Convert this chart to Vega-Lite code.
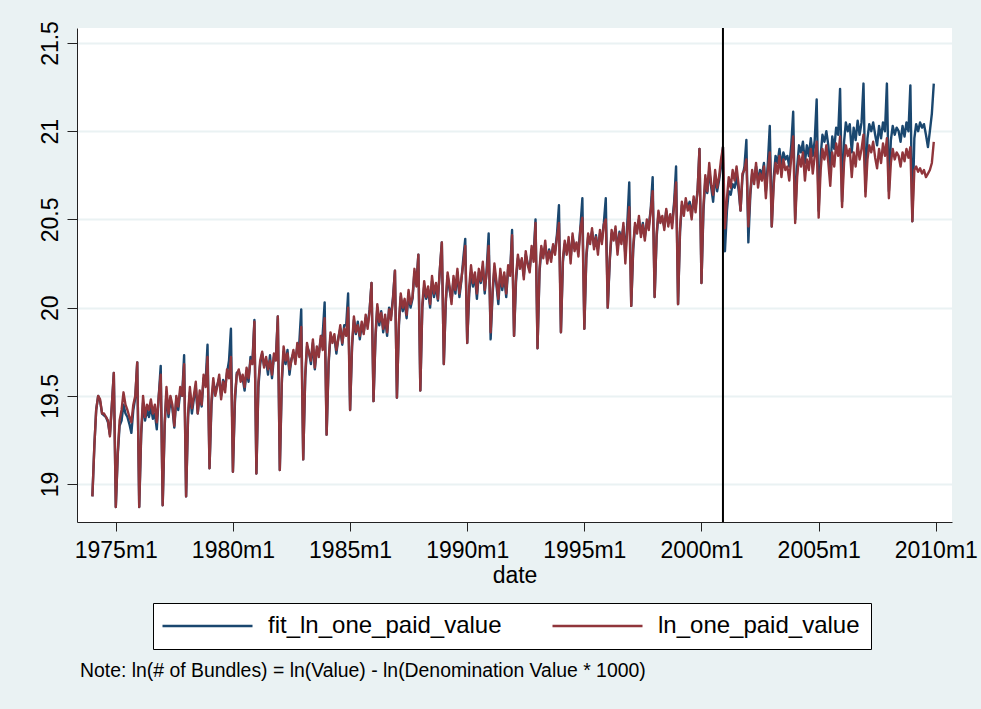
{
  "$schema": "https://vega.github.io/schema/vega-lite/v6.json",
  "width": 875,
  "height": 494,
  "autosize": {"type": "none"},
  "padding": {"left": 77, "top": 28, "right": 29, "bottom": 187},
  "background": "#eaf2f3",
  "config": {
    "font": "Liberation Sans",
    "view": {"fill": "white", "stroke": null}
  },
  "title": {
    "text": "Note: ln(# of Bundles) = ln(Value) - ln(Denomination Value * 1000)",
    "orient": "bottom",
    "anchor": "start",
    "frame": "group",
    "fontSize": 19.4,
    "fontWeight": "normal",
    "color": "#000",
    "dx": 3,
    "offset": 12
  },
  "layer": [
    {
      "data": {"values": [
{"t":"1974-01","f":18.93,"r":18.93},{"t":"1974-02","f":19.22,"r":19.22},{"t":"1974-03","f":19.42,"r":19.42},{"t":"1974-04","f":19.50,"r":19.50},{"t":"1974-05","f":19.47,"r":19.48},{"t":"1974-06","f":19.40,"r":19.40},{"t":"1974-07","f":19.39,"r":19.40},{"t":"1974-08","f":19.38,"r":19.38},{"t":"1974-09","f":19.35,"r":19.36},{"t":"1974-10","f":19.28,"r":19.27},{"t":"1974-11","f":19.45,"r":19.45},{"t":"1974-12","f":19.63,"r":19.63},
{"t":"1975-01","f":18.87,"r":18.87},{"t":"1975-02","f":19.17,"r":19.18},{"t":"1975-03","f":19.33,"r":19.36},{"t":"1975-04","f":19.36,"r":19.42},{"t":"1975-05","f":19.45,"r":19.52},{"t":"1975-06","f":19.40,"r":19.45},{"t":"1975-07","f":19.38,"r":19.42},{"t":"1975-08","f":19.34,"r":19.38},{"t":"1975-09","f":19.29,"r":19.35},{"t":"1975-10","f":19.42,"r":19.45},{"t":"1975-11","f":19.49,"r":19.50},{"t":"1975-12","f":19.69,"r":19.69},
{"t":"1976-01","f":18.87,"r":18.87},{"t":"1976-02","f":19.28,"r":19.30},{"t":"1976-03","f":19.46,"r":19.50},{"t":"1976-04","f":19.36,"r":19.38},{"t":"1976-05","f":19.42,"r":19.45},{"t":"1976-06","f":19.38,"r":19.42},{"t":"1976-07","f":19.44,"r":19.48},{"t":"1976-08","f":19.37,"r":19.40},{"t":"1976-09","f":19.40,"r":19.45},{"t":"1976-10","f":19.31,"r":19.35},{"t":"1976-11","f":19.50,"r":19.50},{"t":"1976-12","f":19.67,"r":19.62},
{"t":"1977-01","f":18.88,"r":18.88},{"t":"1977-02","f":19.33,"r":19.35},{"t":"1977-03","f":19.52,"r":19.55},{"t":"1977-04","f":19.38,"r":19.40},{"t":"1977-05","f":19.47,"r":19.50},{"t":"1977-06","f":19.43,"r":19.45},{"t":"1977-07","f":19.32,"r":19.33},{"t":"1977-08","f":19.48,"r":19.50},{"t":"1977-09","f":19.42,"r":19.44},{"t":"1977-10","f":19.52,"r":19.55},{"t":"1977-11","f":19.50,"r":19.50},{"t":"1977-12","f":19.73,"r":19.68},
{"t":"1978-01","f":18.93,"r":18.93},{"t":"1978-02","f":19.38,"r":19.40},{"t":"1978-03","f":19.52,"r":19.55},{"t":"1978-04","f":19.40,"r":19.43},{"t":"1978-05","f":19.48,"r":19.50},{"t":"1978-06","f":19.55,"r":19.58},{"t":"1978-07","f":19.40,"r":19.40},{"t":"1978-08","f":19.50,"r":19.53},{"t":"1978-09","f":19.44,"r":19.45},{"t":"1978-10","f":19.60,"r":19.62},{"t":"1978-11","f":19.58,"r":19.55},{"t":"1978-12","f":19.79,"r":19.72},
{"t":"1979-01","f":19.09,"r":19.09},{"t":"1979-02","f":19.45,"r":19.48},{"t":"1979-03","f":19.57,"r":19.60},{"t":"1979-04","f":19.53,"r":19.50},{"t":"1979-05","f":19.56,"r":19.55},{"t":"1979-06","f":19.60,"r":19.62},{"t":"1979-07","f":19.50,"r":19.48},{"t":"1979-08","f":19.59,"r":19.58},{"t":"1979-09","f":19.55,"r":19.52},{"t":"1979-10","f":19.63,"r":19.65},{"t":"1979-11","f":19.70,"r":19.60},{"t":"1979-12","f":19.88,"r":19.72},
{"t":"1980-01","f":19.07,"r":19.07},{"t":"1980-02","f":19.46,"r":19.50},{"t":"1980-03","f":19.63,"r":19.62},{"t":"1980-04","f":19.64,"r":19.65},{"t":"1980-05","f":19.60,"r":19.58},{"t":"1980-06","f":19.60,"r":19.62},{"t":"1980-07","f":19.53,"r":19.55},{"t":"1980-08","f":19.64,"r":19.66},{"t":"1980-09","f":19.58,"r":19.60},{"t":"1980-10","f":19.72,"r":19.70},{"t":"1980-11","f":19.70,"r":19.68},{"t":"1980-12","f":19.93,"r":19.92},
{"t":"1981-01","f":19.06,"r":19.06},{"t":"1981-02","f":19.55,"r":19.58},{"t":"1981-03","f":19.68,"r":19.70},{"t":"1981-04","f":19.74,"r":19.75},{"t":"1981-05","f":19.67,"r":19.66},{"t":"1981-06","f":19.70,"r":19.72},{"t":"1981-07","f":19.62,"r":19.65},{"t":"1981-08","f":19.73,"r":19.70},{"t":"1981-09","f":19.60,"r":19.62},{"t":"1981-10","f":19.72,"r":19.74},{"t":"1981-11","f":19.72,"r":19.70},{"t":"1981-12","f":19.95,"r":19.95},
{"t":"1982-01","f":19.08,"r":19.08},{"t":"1982-02","f":19.57,"r":19.60},{"t":"1982-03","f":19.75,"r":19.78},{"t":"1982-04","f":19.68,"r":19.70},{"t":"1982-05","f":19.76,"r":19.74},{"t":"1982-06","f":19.62,"r":19.65},{"t":"1982-07","f":19.71,"r":19.70},{"t":"1982-08","f":19.74,"r":19.76},{"t":"1982-09","f":19.70,"r":19.68},{"t":"1982-10","f":19.78,"r":19.80},{"t":"1982-11","f":19.80,"r":19.72},{"t":"1982-12","f":19.99,"r":19.89},
{"t":"1983-01","f":19.14,"r":19.14},{"t":"1983-02","f":19.60,"r":19.62},{"t":"1983-03","f":19.78,"r":19.80},{"t":"1983-04","f":19.75,"r":19.74},{"t":"1983-05","f":19.68,"r":19.70},{"t":"1983-06","f":19.80,"r":19.82},{"t":"1983-07","f":19.65,"r":19.66},{"t":"1983-08","f":19.76,"r":19.78},{"t":"1983-09","f":19.74,"r":19.72},{"t":"1983-10","f":19.82,"r":19.84},{"t":"1983-11","f":19.85,"r":19.76},{"t":"1983-12","f":20.03,"r":19.94},
{"t":"1984-01","f":19.28,"r":19.28},{"t":"1984-02","f":19.68,"r":19.70},{"t":"1984-03","f":19.84,"r":19.86},{"t":"1984-04","f":19.82,"r":19.80},{"t":"1984-05","f":19.83,"r":19.85},{"t":"1984-06","f":19.74,"r":19.76},{"t":"1984-07","f":19.83,"r":19.82},{"t":"1984-08","f":19.88,"r":19.90},{"t":"1984-09","f":19.79,"r":19.80},{"t":"1984-10","f":19.90,"r":19.88},{"t":"1984-11","f":19.90,"r":19.84},{"t":"1984-12","f":20.08,"r":20.00},
{"t":"1985-01","f":19.42,"r":19.42},{"t":"1985-02","f":19.78,"r":19.80},{"t":"1985-03","f":19.93,"r":19.95},{"t":"1985-04","f":19.85,"r":19.86},{"t":"1985-05","f":19.92,"r":19.90},{"t":"1985-06","f":19.82,"r":19.84},{"t":"1985-07","f":19.90,"r":19.92},{"t":"1985-08","f":19.86,"r":19.85},{"t":"1985-09","f":19.94,"r":19.96},{"t":"1985-10","f":19.90,"r":19.88},{"t":"1985-11","f":19.99,"r":19.98},{"t":"1985-12","f":20.14,"r":20.14},
{"t":"1986-01","f":19.47,"r":19.47},{"t":"1986-02","f":19.83,"r":19.85},{"t":"1986-03","f":20.00,"r":20.02},{"t":"1986-04","f":19.90,"r":19.92},{"t":"1986-05","f":19.98,"r":19.97},{"t":"1986-06","f":19.86,"r":19.88},{"t":"1986-07","f":19.94,"r":19.96},{"t":"1986-08","f":19.84,"r":19.86},{"t":"1986-09","f":20.00,"r":19.99},{"t":"1986-10","f":19.95,"r":19.93},{"t":"1986-11","f":20.06,"r":20.05},{"t":"1986-12","f":20.21,"r":20.21},
{"t":"1987-01","f":19.49,"r":19.49},{"t":"1987-02","f":19.90,"r":19.92},{"t":"1987-03","f":20.06,"r":20.08},{"t":"1987-04","f":19.98,"r":20.00},{"t":"1987-05","f":20.03,"r":20.05},{"t":"1987-06","f":19.94,"r":19.96},{"t":"1987-07","f":20.08,"r":20.10},{"t":"1987-08","f":20.00,"r":20.02},{"t":"1987-09","f":20.05,"r":20.06},{"t":"1987-10","f":20.20,"r":20.22},{"t":"1987-11","f":20.14,"r":20.12},{"t":"1987-12","f":20.30,"r":20.30},
{"t":"1988-01","f":19.53,"r":19.53},{"t":"1988-02","f":20.00,"r":20.02},{"t":"1988-03","f":20.12,"r":20.15},{"t":"1988-04","f":20.05,"r":20.06},{"t":"1988-05","f":20.10,"r":20.12},{"t":"1988-06","f":20.00,"r":20.02},{"t":"1988-07","f":20.15,"r":20.18},{"t":"1988-08","f":20.06,"r":20.08},{"t":"1988-09","f":20.12,"r":20.14},{"t":"1988-10","f":20.04,"r":20.05},{"t":"1988-11","f":20.22,"r":20.22},{"t":"1988-12","f":20.37,"r":20.37},
{"t":"1989-01","f":19.68,"r":19.68},{"t":"1989-02","f":20.03,"r":20.05},{"t":"1989-03","f":20.18,"r":20.20},{"t":"1989-04","f":20.10,"r":20.12},{"t":"1989-05","f":20.04,"r":20.02},{"t":"1989-06","f":20.16,"r":20.18},{"t":"1989-07","f":20.08,"r":20.10},{"t":"1989-08","f":20.20,"r":20.22},{"t":"1989-09","f":20.06,"r":20.08},{"t":"1989-10","f":20.15,"r":20.16},{"t":"1989-11","f":20.28,"r":20.25},{"t":"1989-12","f":20.39,"r":20.35},
{"t":"1990-01","f":19.80,"r":19.80},{"t":"1990-02","f":20.08,"r":20.12},{"t":"1990-03","f":20.20,"r":20.24},{"t":"1990-04","f":20.12,"r":20.14},{"t":"1990-05","f":20.18,"r":20.20},{"t":"1990-06","f":20.05,"r":20.08},{"t":"1990-07","f":20.20,"r":20.22},{"t":"1990-08","f":20.14,"r":20.15},{"t":"1990-09","f":20.23,"r":20.26},{"t":"1990-10","f":20.08,"r":20.10},{"t":"1990-11","f":20.22,"r":20.20},{"t":"1990-12","f":20.42,"r":20.35},
{"t":"1991-01","f":19.82,"r":19.86},{"t":"1991-02","f":20.08,"r":20.10},{"t":"1991-03","f":20.22,"r":20.25},{"t":"1991-04","f":20.13,"r":20.15},{"t":"1991-05","f":20.02,"r":20.05},{"t":"1991-06","f":20.20,"r":20.22},{"t":"1991-07","f":20.10,"r":20.12},{"t":"1991-08","f":20.18,"r":20.20},{"t":"1991-09","f":20.06,"r":20.08},{"t":"1991-10","f":20.22,"r":20.24},{"t":"1991-11","f":20.20,"r":20.18},{"t":"1991-12","f":20.44,"r":20.41},
{"t":"1992-01","f":19.84,"r":19.84},{"t":"1992-02","f":20.15,"r":20.18},{"t":"1992-03","f":20.28,"r":20.30},{"t":"1992-04","f":20.24,"r":20.22},{"t":"1992-05","f":20.27,"r":20.28},{"t":"1992-06","f":20.18,"r":20.16},{"t":"1992-07","f":20.30,"r":20.32},{"t":"1992-08","f":20.25,"r":20.24},{"t":"1992-09","f":20.22,"r":20.20},{"t":"1992-10","f":20.33,"r":20.35},{"t":"1992-11","f":20.30,"r":20.26},{"t":"1992-12","f":20.50,"r":20.48},
{"t":"1993-01","f":19.77,"r":19.77},{"t":"1993-02","f":20.20,"r":20.22},{"t":"1993-03","f":20.33,"r":20.35},{"t":"1993-04","f":20.30,"r":20.28},{"t":"1993-05","f":20.35,"r":20.38},{"t":"1993-06","f":20.27,"r":20.25},{"t":"1993-07","f":20.33,"r":20.32},{"t":"1993-08","f":20.28,"r":20.26},{"t":"1993-09","f":20.35,"r":20.36},{"t":"1993-10","f":20.32,"r":20.30},{"t":"1993-11","f":20.42,"r":20.40},{"t":"1993-12","f":20.58,"r":20.48},
{"t":"1994-01","f":19.86,"r":19.86},{"t":"1994-02","f":20.26,"r":20.28},{"t":"1994-03","f":20.36,"r":20.38},{"t":"1994-04","f":20.32,"r":20.30},{"t":"1994-05","f":20.38,"r":20.40},{"t":"1994-06","f":20.28,"r":20.25},{"t":"1994-07","f":20.40,"r":20.42},{"t":"1994-08","f":20.34,"r":20.32},{"t":"1994-09","f":20.35,"r":20.37},{"t":"1994-10","f":20.32,"r":20.29},{"t":"1994-11","f":20.46,"r":20.45},{"t":"1994-12","f":20.62,"r":20.51},
{"t":"1995-01","f":19.88,"r":19.88},{"t":"1995-02","f":20.28,"r":20.30},{"t":"1995-03","f":20.40,"r":20.42},{"t":"1995-04","f":20.38,"r":20.36},{"t":"1995-05","f":20.43,"r":20.45},{"t":"1995-06","f":20.35,"r":20.33},{"t":"1995-07","f":20.41,"r":20.40},{"t":"1995-08","f":20.33,"r":20.30},{"t":"1995-09","f":20.42,"r":20.44},{"t":"1995-10","f":20.38,"r":20.36},{"t":"1995-11","f":20.48,"r":20.47},{"t":"1995-12","f":20.62,"r":20.50},
{"t":"1996-01","f":20.00,"r":20.00},{"t":"1996-02","f":20.26,"r":20.28},{"t":"1996-03","f":20.42,"r":20.44},{"t":"1996-04","f":20.40,"r":20.38},{"t":"1996-05","f":20.44,"r":20.46},{"t":"1996-06","f":20.33,"r":20.30},{"t":"1996-07","f":20.43,"r":20.42},{"t":"1996-08","f":20.38,"r":20.36},{"t":"1996-09","f":20.46,"r":20.48},{"t":"1996-10","f":20.30,"r":20.25},{"t":"1996-11","f":20.48,"r":20.45},{"t":"1996-12","f":20.71,"r":20.57},
{"t":"1997-01","f":20.01,"r":20.01},{"t":"1997-02","f":20.33,"r":20.35},{"t":"1997-03","f":20.46,"r":20.48},{"t":"1997-04","f":20.44,"r":20.42},{"t":"1997-05","f":20.50,"r":20.52},{"t":"1997-06","f":20.42,"r":20.40},{"t":"1997-07","f":20.48,"r":20.47},{"t":"1997-08","f":20.40,"r":20.38},{"t":"1997-09","f":20.48,"r":20.50},{"t":"1997-10","f":20.46,"r":20.44},{"t":"1997-11","f":20.56,"r":20.55},{"t":"1997-12","f":20.74,"r":20.66},
{"t":"1998-01","f":20.06,"r":20.06},{"t":"1998-02","f":20.40,"r":20.42},{"t":"1998-03","f":20.53,"r":20.55},{"t":"1998-04","f":20.50,"r":20.48},{"t":"1998-05","f":20.50,"r":20.52},{"t":"1998-06","f":20.46,"r":20.44},{"t":"1998-07","f":20.55,"r":20.56},{"t":"1998-08","f":20.48,"r":20.46},{"t":"1998-09","f":20.51,"r":20.53},{"t":"1998-10","f":20.48,"r":20.45},{"t":"1998-11","f":20.60,"r":20.58},{"t":"1998-12","f":20.80,"r":20.71},
{"t":"1999-01","f":20.02,"r":20.02},{"t":"1999-02","f":20.43,"r":20.45},{"t":"1999-03","f":20.58,"r":20.60},{"t":"1999-04","f":20.55,"r":20.52},{"t":"1999-05","f":20.60,"r":20.62},{"t":"1999-06","f":20.57,"r":20.55},{"t":"1999-07","f":20.60,"r":20.58},{"t":"1999-08","f":20.53,"r":20.50},{"t":"1999-09","f":20.61,"r":20.63},{"t":"1999-10","f":20.57,"r":20.54},{"t":"1999-11","f":20.66,"r":20.66},{"t":"1999-12","f":20.90,"r":20.90},
{"t":"2000-01","f":20.14,"r":20.14},{"t":"2000-02","f":20.55,"r":20.58},{"t":"2000-03","f":20.72,"r":20.75},{"t":"2000-04","f":20.65,"r":20.66},{"t":"2000-05","f":20.78,"r":20.82},{"t":"2000-06","f":20.68,"r":20.70},{"t":"2000-07","f":20.60,"r":20.64},{"t":"2000-08","f":20.75,"r":20.78},{"t":"2000-09","f":20.66,"r":20.68},{"t":"2000-10","f":20.72,"r":20.74},{"t":"2000-11","f":20.80,"r":20.84},{"t":"2000-12","f":20.91,"r":20.91},
{"t":"2001-01","f":20.32,"r":20.45},{"t":"2001-02","f":20.55,"r":20.62},{"t":"2001-03","f":20.66,"r":20.74},{"t":"2001-04","f":20.64,"r":20.68},{"t":"2001-05","f":20.70,"r":20.78},{"t":"2001-06","f":20.68,"r":20.72},{"t":"2001-07","f":20.74,"r":20.80},{"t":"2001-08","f":20.67,"r":20.70},{"t":"2001-09","f":20.55,"r":20.55},{"t":"2001-10","f":20.74,"r":20.76},{"t":"2001-11","f":20.80,"r":20.78},{"t":"2001-12","f":20.95,"r":20.84},
{"t":"2002-01","f":20.37,"r":20.46},{"t":"2002-02","f":20.64,"r":20.66},{"t":"2002-03","f":20.76,"r":20.78},{"t":"2002-04","f":20.72,"r":20.70},{"t":"2002-05","f":20.80,"r":20.82},{"t":"2002-06","f":20.72,"r":20.68},{"t":"2002-07","f":20.78,"r":20.76},{"t":"2002-08","f":20.75,"r":20.72},{"t":"2002-09","f":20.82,"r":20.80},{"t":"2002-10","f":20.66,"r":20.62},{"t":"2002-11","f":20.82,"r":20.78},{"t":"2002-12","f":21.03,"r":20.88},
{"t":"2003-01","f":20.46,"r":20.46},{"t":"2003-02","f":20.74,"r":20.70},{"t":"2003-03","f":20.86,"r":20.82},{"t":"2003-04","f":20.82,"r":20.76},{"t":"2003-05","f":20.90,"r":20.86},{"t":"2003-06","f":20.80,"r":20.74},{"t":"2003-07","f":20.88,"r":20.84},{"t":"2003-08","f":20.84,"r":20.78},{"t":"2003-09","f":20.86,"r":20.80},{"t":"2003-10","f":20.80,"r":20.72},{"t":"2003-11","f":20.92,"r":20.85},{"t":"2003-12","f":21.11,"r":20.97},
{"t":"2004-01","f":20.50,"r":20.48},{"t":"2004-02","f":20.80,"r":20.74},{"t":"2004-03","f":20.92,"r":20.86},{"t":"2004-04","f":20.88,"r":20.80},{"t":"2004-05","f":20.94,"r":20.88},{"t":"2004-06","f":20.82,"r":20.72},{"t":"2004-07","f":20.92,"r":20.84},{"t":"2004-08","f":20.86,"r":20.78},{"t":"2004-09","f":20.96,"r":20.90},{"t":"2004-10","f":20.86,"r":20.76},{"t":"2004-11","f":20.95,"r":20.86},{"t":"2004-12","f":21.18,"r":20.94},
{"t":"2005-01","f":20.55,"r":20.51},{"t":"2005-02","f":20.86,"r":20.78},{"t":"2005-03","f":20.98,"r":20.90},{"t":"2005-04","f":20.94,"r":20.84},{"t":"2005-05","f":21.00,"r":20.92},{"t":"2005-06","f":20.92,"r":20.82},{"t":"2005-07","f":20.78,"r":20.69},{"t":"2005-08","f":20.97,"r":20.88},{"t":"2005-09","f":20.90,"r":20.80},{"t":"2005-10","f":21.02,"r":20.93},{"t":"2005-11","f":20.98,"r":20.86},{"t":"2005-12","f":21.24,"r":20.97},
{"t":"2006-01","f":20.60,"r":20.57},{"t":"2006-02","f":20.94,"r":20.82},{"t":"2006-03","f":21.05,"r":20.92},{"t":"2006-04","f":21.00,"r":20.86},{"t":"2006-05","f":21.04,"r":20.90},{"t":"2006-06","f":20.88,"r":20.74},{"t":"2006-07","f":21.02,"r":20.88},{"t":"2006-08","f":20.95,"r":20.80},{"t":"2006-09","f":21.06,"r":20.93},{"t":"2006-10","f":20.98,"r":20.84},{"t":"2006-11","f":21.05,"r":20.90},{"t":"2006-12","f":21.27,"r":20.98},
{"t":"2007-01","f":20.66,"r":20.63},{"t":"2007-02","f":20.96,"r":20.84},{"t":"2007-03","f":21.04,"r":20.92},{"t":"2007-04","f":21.00,"r":20.88},{"t":"2007-05","f":21.05,"r":20.94},{"t":"2007-06","f":20.98,"r":20.85},{"t":"2007-07","f":20.92,"r":20.79},{"t":"2007-08","f":21.03,"r":20.90},{"t":"2007-09","f":20.96,"r":20.82},{"t":"2007-10","f":21.05,"r":20.93},{"t":"2007-11","f":21.00,"r":20.86},{"t":"2007-12","f":21.27,"r":20.96},
{"t":"2008-01","f":20.66,"r":20.62},{"t":"2008-02","f":20.95,"r":20.82},{"t":"2008-03","f":21.03,"r":20.90},{"t":"2008-04","f":20.98,"r":20.84},{"t":"2008-05","f":21.02,"r":20.88},{"t":"2008-06","f":21.00,"r":20.86},{"t":"2008-07","f":20.94,"r":20.80},{"t":"2008-08","f":21.03,"r":20.88},{"t":"2008-09","f":20.97,"r":20.83},{"t":"2008-10","f":21.05,"r":20.90},{"t":"2008-11","f":21.00,"r":20.85},{"t":"2008-12","f":21.26,"r":20.91},
{"t":"2009-01","f":20.49,"r":20.49},{"t":"2009-02","f":20.96,"r":20.78},{"t":"2009-03","f":21.04,"r":20.80},{"t":"2009-04","f":21.00,"r":20.77},{"t":"2009-05","f":21.05,"r":20.79},{"t":"2009-06","f":21.02,"r":20.76},{"t":"2009-07","f":21.04,"r":20.78},{"t":"2009-08","f":20.98,"r":20.74},{"t":"2009-09","f":20.91,"r":20.76},{"t":"2009-10","f":21.00,"r":20.78},{"t":"2009-11","f":21.10,"r":20.82},{"t":"2009-12","f":21.27,"r":20.94}
      ]},
      "transform": [{"fold": ["f", "r"], "as": ["s", "v"]}],
      "mark": {"type": "line", "strokeWidth": 2.4, "strokeJoin": "round"},
      "encoding": {
        "x": {
          "field": "t",
          "type": "temporal",
          "scale": {"type": "utc", "domain": [{"year": 1973, "month": 5, "date": 6, "utc": true}, {"year": 2010, "month": 9, "date": 11, "utc": true}]},
          "axis": {
            "title": "date",
            "values": [
              {"year": 1975, "month": 1, "date": 1, "utc": true},
              {"year": 1980, "month": 1, "date": 1, "utc": true},
              {"year": 1985, "month": 1, "date": 1, "utc": true},
              {"year": 1990, "month": 1, "date": 1, "utc": true},
              {"year": 1995, "month": 1, "date": 1, "utc": true},
              {"year": 2000, "month": 1, "date": 1, "utc": true},
              {"year": 2005, "month": 1, "date": 1, "utc": true},
              {"year": 2010, "month": 1, "date": 1, "utc": true}
            ],
            "labelExpr": "utcFormat(datum.value, '%Y') + 'm1'",
            "grid": false,
            "domainColor": "#222",
            "domainWidth": 1,
            "tickColor": "#222",
            "tickSize": 9,
            "tickWidth": 1,
            "labelFontSize": 23,
            "labelColor": "#000",
            "labelPadding": 8,
            "labelFlush": false,
            "labelOverlap": false,
            "titleFontSize": 23,
            "titleFontWeight": "normal",
            "titleColor": "#000",
            "titlePadding": 2
          }
        },
        "y": {
          "field": "v",
          "type": "quantitative",
          "scale": {"domain": [18.785, 21.585], "zero": false, "nice": false},
          "axis": {
            "title": null,
            "values": [19, 19.5, 20, 20.5, 21, 21.5],
            "format": "~g",
            "labelAngle": -90,
            "labelAlign": "center",
            "labelBaseline": "bottom",
            "labelFontSize": 23,
            "labelColor": "#000",
            "labelPadding": 5,
            "grid": true,
            "gridColor": "#eaf2f3",
            "gridWidth": 2,
            "domainColor": "#222",
            "tickColor": "#222",
            "tickSize": 10,
            "labelOverlap": false
          }
        },
        "color": {
          "field": "s",
          "type": "nominal",
          "scale": {"domain": ["f", "r"], "range": ["#1a476f", "#90353b"]},
          "legend": {
            "title": null,
            "orient": "none",
            "legendX": 76,
            "legendY": 575,
            "direction": "horizontal",
            "columns": 2,
            "labelExpr": "datum.label == 'f' ? 'fit_ln_one_paid_value' : 'ln_one_paid_value'",
            "labelFontSize": 24,
            "labelColor": "#000",
            "labelOffset": 80,
            "labelLimit": 400,
            "symbolType": "M-1.5,0H8.5",
            "symbolSize": 324,
            "symbolStrokeWidth": 2.4,
            "symbolFillColor": "transparent",
            "columnPadding": 45,
            "padding": 11,
            "strokeColor": "#000",
            "fillColor": "white"
          }
        }
      }
    },
    {
      "data": {"values": [{"t": "2000-12"}]},
      "mark": {"type": "rule", "color": "#000", "strokeWidth": 2},
      "encoding": {
        "x": {"field": "t", "type": "temporal"}
      }
    }
  ]
}
